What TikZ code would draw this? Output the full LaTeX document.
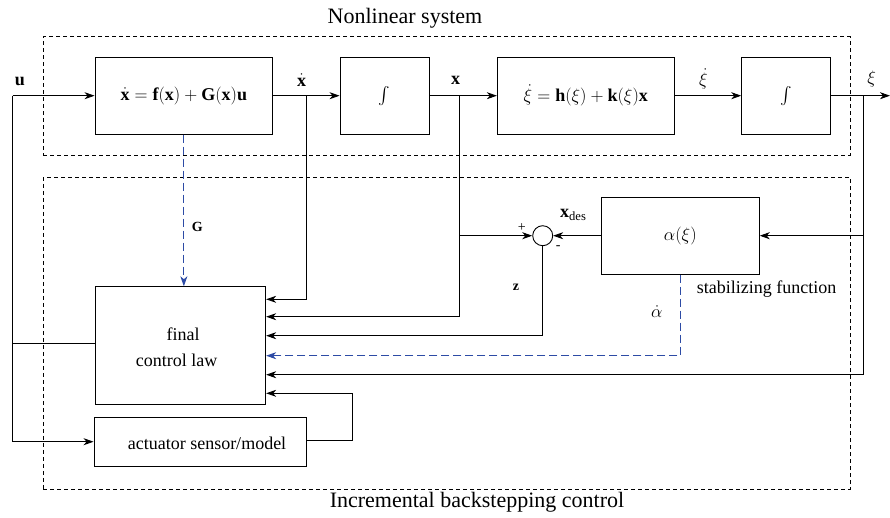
\RequirePackage{fix-cm}
\documentclass[tikz,border=0pt]{standalone}
\usepackage{exscale}
\usepackage{fontspec}
\setmainfont{Liberation Serif}
\usetikzlibrary{arrows.meta}
\definecolor{sigblue}{RGB}{45,75,165}
\begin{document}
\begin{tikzpicture}[x=1pt,y=-1pt,
  every node/.style={font=\fontsize{18}{21}\selectfont},
  blk/.style={draw,line width=0.9pt,inner sep=0pt,minimum height=77pt},
  sig/.style={line width=0.9pt,-{Stealth[length=10pt,width=7pt,inset=3pt]}},
  wire/.style={line width=0.9pt},
  est/.style={sigblue,line width=0.9pt,dash pattern=on 8pt off 4pt,
    -{Stealth[length=10pt,width=7pt,inset=3pt]}},
  frame/.style={draw,line width=0.8pt,dash pattern=on 4pt off 3pt,inner sep=0pt},
  lbl/.style={inner sep=0pt},
  small/.style={inner sep=0pt,font=\fontsize{14}{16}\selectfont},
  title/.style={inner sep=0pt,font=\fontsize{22}{26}\selectfont}]
\useasboundingbox (0,0) rectangle (890,517);

% subsystem frames
\node[frame,minimum width=806.7pt,minimum height=118.3pt] (plant) at (446.65,95.85) {};
\node[frame,minimum width=806.7pt,minimum height=312pt] (ctrl) at (446.65,333.3) {};
\node[title] (ttop) at (405,18) {Nonlinear system};
\node[title] (tbot) at (477,502) {Incremental backstepping control};

% plant blocks
\node[blk,minimum width=177.7pt] (dyn) at (183.85,95.7)
  {$\dot{\mathbf{x}}=\mathbf{f}(\mathbf{x})+\mathbf{G}(\mathbf{x})\mathbf{u}$};
\node[blk,minimum width=89pt] (int1) at (384.5,95.7) {$\int$};
\node[blk,minimum width=177pt] (kin) at (585.8,95.7)
  {$\dot{\xi}=\mathbf{h}(\xi)+\mathbf{k}(\xi)\mathbf{x}$};
\node[blk,minimum width=88.3pt] (int2) at (785.85,95.7) {$\int$};

% controller blocks
\node[blk,minimum width=158pt] (alpha) at (680.3,235.7) {$\alpha(\xi)$};
\node[draw,circle,minimum size=20pt,inner sep=0pt,line width=0.9pt] (sum) at (542.7,235.7) {};
\node[blk,minimum width=170.7pt,minimum height=117.6pt] (law) at (180.35,345.5) {};
\node[lbl] (lawa) at (183,334) {final};
\node[lbl] (lawb) at (176.7,360) {control law};
\node[blk,minimum width=212.7pt,minimum height=49pt] (act) at (200.35,442.2) {};
\node[lbl] (acttxt) at (207,443.5) {actuator sensor/model};

% branch points
\coordinate (uin) at (12.7,95.7);
\coordinate (jxd) at (306,95.7);
\coordinate (jx) at (459,95.7);
\coordinate (jxi) at (863.3,95.7);
\coordinate (xiout) at (890,95.7);

% forward path
\draw[sig] (uin) -- (dyn.west);
\draw[sig] (dyn.east) -- (int1.west);
\draw[sig] (int1.east) -- (kin.west);
\draw[sig] (kin.east) -- (int2.west);
\draw[sig] (int2.east) -- (xiout);

% feedback into the control law
\draw[sig] (jxd) |- ([yshift=46.2pt]law.east);
\draw[sig] (jx) |- ([yshift=28.8pt]law.east);
\draw[sig] (jx |- sum) -- (sum.west);
\draw[sig] (alpha.west) -- (sum.east);
\draw[sig] (sum.south) |- ([yshift=9.8pt]law.east);
\draw[est] (alpha.south) |- ([yshift=-10.2pt]law.east);
\draw[sig] (jxi) |- ([yshift=-29.2pt]law.east);
\draw[sig] (jxi |- alpha) -- (alpha.east);
\draw[sig] ([yshift=1.5pt]act.east) -- ++(45.6,0) |- ([yshift=-47.8pt]law.east);
\draw[est] (dyn.south) -- (dyn.south |- law.north);

% input distribution
\draw[sig] (uin) |- ([yshift=0.5pt]act.west);
\draw[wire] (uin |- law) ++(0,-1.8) -- ([yshift=1.8pt]law.west);

% signal labels
\node[lbl] (lu) at (20,81) {$\mathbf{u}$};
\node[lbl] (lxd) at (301.7,80) {$\dot{\mathbf{x}}$};
\node[lbl] (lx) at (455.7,80) {$\mathbf{x}$};
\node[lbl] (lxid) at (703.3,79) {$\dot{\xi}$};
\node[lbl] (lxi) at (871.7,79) {$\xi$};
\node[small] (lG) at (197.3,227.3) {$\mathbf{G}$};
\node[lbl] (lxdes) at (573.3,215) {$\mathbf{x}_{\mathrm{des}}$};
\node[small] (lplus) at (521.7,228) {+};
\node[small] (lminus) at (558.3,248) {-};
\node[small] (lz) at (516,287) {$\mathbf{z}$};
\node[lbl] (lstab) at (766.5,289.3) {stabilizing function};
\node[lbl] (lad) at (656.7,311.7) {$\dot{\alpha}$};
\end{tikzpicture}
\end{document}
